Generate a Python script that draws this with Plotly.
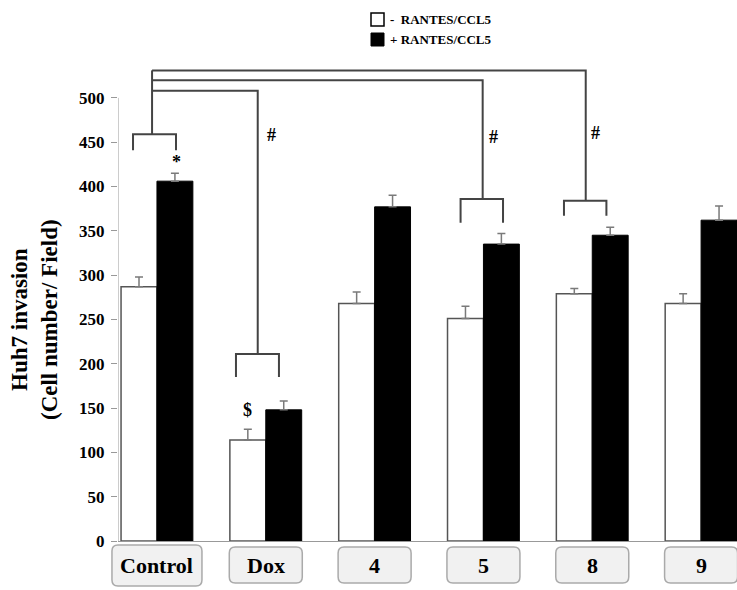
import plotly.graph_objects as go

# ---------------- data ----------------
groups = ["Control", "Dox", "4", "5", "8", "9"]
minus_vals = [287, 114, 268, 251, 279, 268]
minus_err = [11, 12, 13, 14, 6, 11]
plus_vals = [406, 148, 377, 335, 345, 362]
plus_err = [9, 10, 13, 12, 9, 16]
y_ticks = [0, 50, 100, 150, 200, 250, 300, 350, 400, 450, 500]

# significance brackets: (left, right, top, leg bottom) in data units
pair_brackets = [(-0.22, 0.175, 459, 441), (0.726, 1.121, 211, 185),
                 (2.79, 3.18, 386, 359), (3.74, 4.13, 384, 367)]
stem_x = -0.045
connectors = [(0.926, 508, 211), (2.993, 520, 386), (3.94, 531, 384)]  # (x end, level, drop to)
marks = [("#", 1.057, 458), ("#", 3.09, 456), ("#", 4.03, 460), ("*", 0.175, 428), ("$", 0.83, 148)]

# ---------------- layout constants ----------------
W, H = 737, 590
ML, MR, MT, MB = 118, 0, 50, 49
XR = [-0.358, 5.33]
YR = [0, 554]
BW = 0.33
PW = W - ML - MR
PH = H - MT - MB
FONT = "Liberation Serif, Times New Roman, serif"
LINE = "#444444"


def px_x(x):
    return (x - XR[0]) / (XR[1] - XR[0])


def py(p):  # pixel y from top -> paper y
    return (H - MB - p) / PH


def pxp(p):  # pixel x -> paper x
    return (p - ML) / PW


idx = list(range(len(groups)))
fig = go.Figure()
fig.add_trace(go.Bar(
    x=[i - BW / 2 for i in idx], y=minus_vals, width=BW, name="- RANTES/CCL5",
    marker=dict(color="white", line=dict(color="#555555", width=1.5)),
    error_y=dict(type="data", array=minus_err, arrayminus=[0] * len(idx), symmetric=False,
                 color="#7a7a7a", thickness=1.5, width=4),
    showlegend=False))
fig.add_trace(go.Bar(
    x=[i + BW / 2 for i in idx], y=plus_vals, width=BW, name="+ RANTES/CCL5",
    marker=dict(color="black", line=dict(color="black", width=1)),
    error_y=dict(type="data", array=plus_err, arrayminus=[0] * len(idx), symmetric=False,
                 color="#7a7a7a", thickness=1.5, width=4),
    showlegend=False))

shapes = []
# y axis line (0..500)
shapes.append(dict(type="line", xref="x", yref="y", x0=XR[0], x1=XR[0], y0=0, y1=y_ticks[-1],
                   line=dict(color="#999999", width=1)))
# brackets
for (l, r, t, b) in pair_brackets:
    shapes.append(dict(type="path", xref="x", yref="y",
                       path=f"M{l},{b} L{l},{t} L{r},{t} L{r},{b}",
                       line=dict(color=LINE, width=2)))
top_level = max(c[1] for c in connectors)
shapes.append(dict(type="line", xref="x", yref="y", x0=stem_x, x1=stem_x,
                   y0=pair_brackets[0][2], y1=top_level, line=dict(color=LINE, width=2)))
for (xe, lvl, drop) in connectors:
    shapes.append(dict(type="path", xref="x", yref="y",
                       path=f"M{stem_x},{lvl} L{xe},{lvl} L{xe},{drop}",
                       line=dict(color=LINE, width=2)))

# label boxes (rounded)
rx, ry = 6 / PW, 6 / PH
for i, g in enumerate(groups):
    half = (90 if i == 0 else 73) / 2 / PW
    cx = px_x(i)
    x0, x1 = cx - half, cx + half
    y0, y1 = py(586 if i == 0 else 583), py(545 if i == 0 else 547)
    path = (f"M{x0+rx},{y1} L{x1-rx},{y1} Q{x1},{y1} {x1},{y1-ry} L{x1},{y0+ry} "
            f"Q{x1},{y0} {x1-rx},{y0} L{x0+rx},{y0} Q{x0},{y0} {x0},{y0+ry} "
            f"L{x0},{y1-ry} Q{x0},{y1} {x0+rx},{y1} Z")
    shapes.append(dict(type="path", xref="paper", yref="paper", path=path,
                       fillcolor="#f1f1f1", line=dict(color="#aaaaaa", width=1.5)))

# legend squares
shapes.append(dict(type="rect", xref="paper", yref="paper", x0=pxp(371), x1=pxp(384),
                   y0=py(26), y1=py(13), fillcolor="white", line=dict(color="black", width=1.5)))
shapes.append(dict(type="rect", xref="paper", yref="paper", x0=pxp(371), x1=pxp(384),
                   y0=py(46), y1=py(33), fillcolor="black", line=dict(color="black", width=1)))

ann = []
for i, g in enumerate(groups):
    ann.append(dict(x=i, xref="x", y=py(565), yref="paper", text=f"<b>{g}</b>", showarrow=False,
                    xanchor="center", yanchor="middle",
                    font=dict(family=FONT, size=22, color="black")))
for (t, x, y) in marks:
    ann.append(dict(x=x, y=y, xref="x", yref="y", text=f"<b>{t}</b>", showarrow=False,
                    font=dict(family=FONT, size=18, color="black")))
ann.append(dict(x=pxp(388), y=py(20), xref="paper", yref="paper", text="<b>-  RANTES/CCL5</b>",
                showarrow=False, xanchor="left", yanchor="middle",
                font=dict(family=FONT, size=13, color="black")))
ann.append(dict(x=pxp(388), y=py(40), xref="paper", yref="paper", text="<b>+ RANTES/CCL5</b>",
                showarrow=False, xanchor="left", yanchor="middle",
                font=dict(family=FONT, size=13, color="black")))
ann.append(dict(x=pxp(34), y=py(320), xref="paper", yref="paper",
                text="<b>Huh7 invasion</b><br><b>(Cell number/ Field)</b>", textangle=-90,
                showarrow=False, xanchor="center", yanchor="middle",
                font=dict(family=FONT, size=23, color="black")))

fig.update_layout(
    width=W, height=H, margin=dict(l=ML, r=MR, t=MT, b=MB),
    plot_bgcolor="white", paper_bgcolor="white", barmode="overlay",
    shapes=shapes, annotations=ann,
    xaxis=dict(range=XR, showticklabels=False, showgrid=False, zeroline=False,
               showline=True, linecolor="#999999", linewidth=1, ticks=""),
    yaxis=dict(range=YR, tickvals=y_ticks, ticktext=[f"<b>{v}</b>" for v in y_ticks],
               ticks="outside", ticklen=6, tickcolor="#999999",
               showline=False, showgrid=False, zeroline=False, ticklabelstandoff=3,
               tickfont=dict(family=FONT, size=17, color="black")),
)
fig.write_html("out.html", config={"displayModeBar": False},
               post_script="document.body.style.margin='0';")
